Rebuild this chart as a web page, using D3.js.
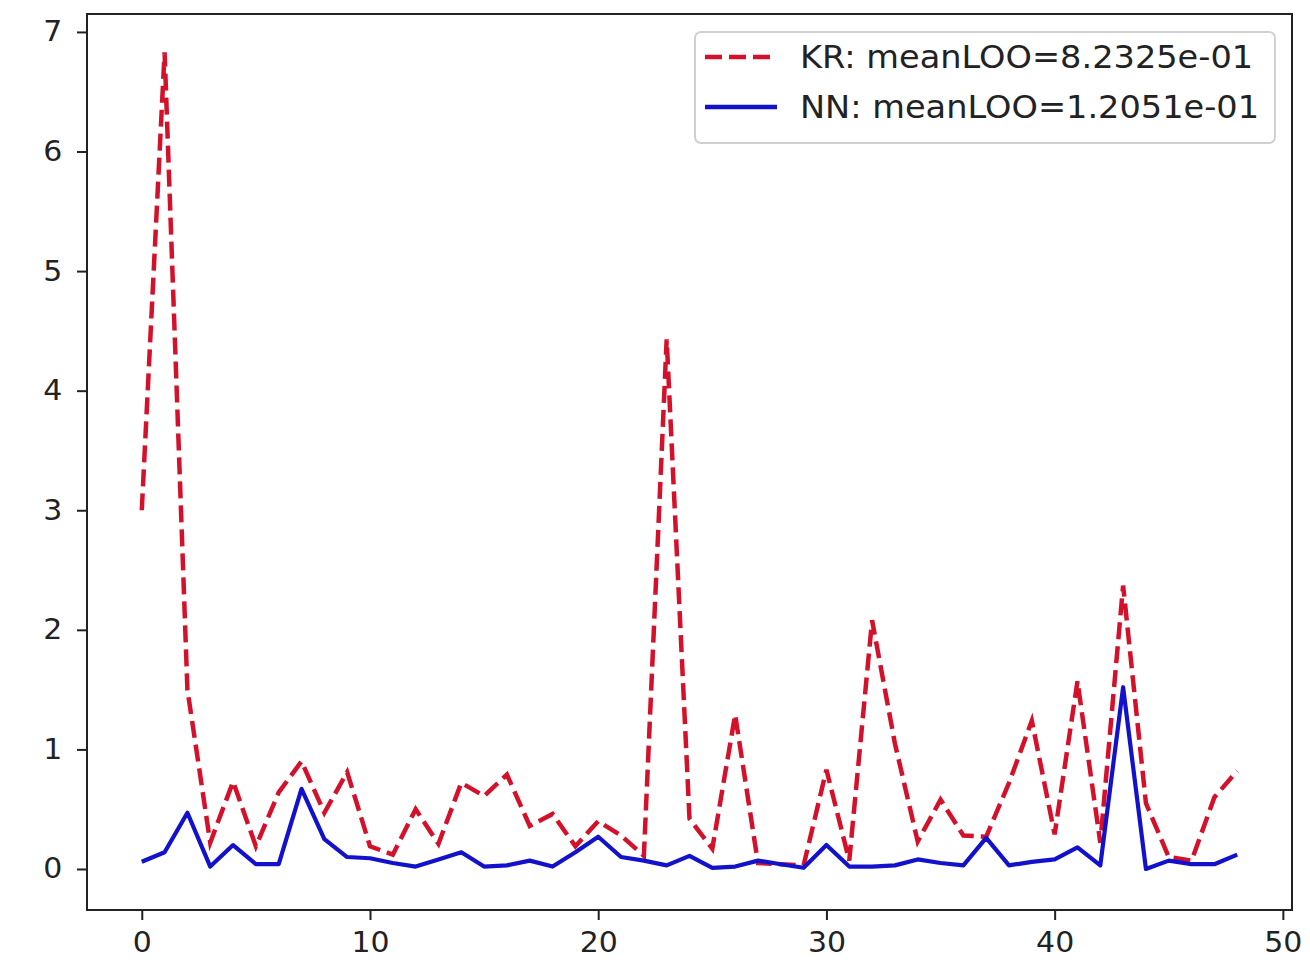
<!DOCTYPE html>
<html>
<head>
<meta charset="utf-8">
<script src="https://cdn.jsdelivr.net/npm/d3@7"></script>
<style>
  html, body { margin: 0; padding: 0; background: #fff; }
  svg { display: block; }
  text { font-family: "DejaVu Sans", sans-serif; fill: #222; }
</style>
</head>
<body>
<svg id="chart" width="1310" height="963"></svg>
<script>
// ---- data ----
const xIndex = d3.range(49);
const krValues = [3.0, 6.83, 1.5, 0.22, 0.73, 0.19, 0.64, 0.9, 0.47, 0.81,
  0.19, 0.12, 0.5, 0.21, 0.72, 0.61, 0.79, 0.36, 0.46, 0.19,
  0.40, 0.28, 0.11, 4.43, 0.42, 0.17, 1.29, 0.05, 0.04, 0.03,
  0.83, 0.07, 2.08, 1.05, 0.23, 0.58, 0.28, 0.27, 0.72, 1.24,
  0.29, 1.57, 0.22, 2.37, 0.55, 0.10, 0.07, 0.6, 0.82];
const nnValues = [0.06, 0.14, 0.47, 0.02, 0.20, 0.04, 0.04, 0.67, 0.25, 0.10,
  0.09, 0.05, 0.02, 0.08, 0.14, 0.02, 0.03, 0.07, 0.02, 0.14,
  0.27, 0.10, 0.07, 0.03, 0.11, 0.01, 0.02, 0.07, 0.04, 0.01,
  0.20, 0.02, 0.02, 0.03, 0.08, 0.05, 0.03, 0.26, 0.03, 0.06,
  0.08, 0.18, 0.03, 1.52, 0.00, 0.07, 0.04, 0.04, 0.12];
const xTicks = [0, 10, 20, 30, 40, 50];
const yTicks = [0, 1, 2, 3, 4, 5, 6, 7];
const legendLabels = ["KR: meanLOO=8.2325e-01", "NN: meanLOO=1.2051e-01"];

// ---- layout ----
const plotLeft = 87, plotRight = 1292, plotTop = 14, plotBottom = 910;
const svg = d3.select("#chart");

const x = d3.scaleLinear().domain([-2.4, 50.4]).range([plotLeft, plotRight]);
const y = d3.scaleLinear().domain([-0.343, 7.15]).range([plotBottom, plotTop]);

const redCol = "#d4112b";
const blueCol = "#1212cc";
const dashPattern = "17,7";

const line = d3.line().x((d, i) => x(xIndex[i])).y(d => y(d));

// lines
svg.append("path").datum(krValues)
  .attr("d", line)
  .attr("fill", "none")
  .attr("stroke", redCol)
  .attr("stroke-width", 4.5)
  .attr("stroke-dasharray", dashPattern);

svg.append("path").datum(nnValues)
  .attr("d", line)
  .attr("fill", "none")
  .attr("stroke", blueCol)
  .attr("stroke-width", 4.2)
  .attr("stroke-linejoin", "round");

// axes
const xAxis = d3.axisBottom(x).tickValues(xTicks).tickSize(10).tickPadding(12).tickFormat(d3.format("d"));
const gx = svg.append("g").attr("transform", `translate(0,${plotBottom})`).call(xAxis);
gx.select(".domain").remove();
gx.selectAll(".tick line").attr("stroke", "#222").attr("stroke-width", 2);
gx.selectAll(".tick text").attr("font-size", 28).attr("font-family", "DejaVu Sans").attr("fill", "#222")
  .attr("transform", "scale(1.07,1)");

const yAxis = d3.axisLeft(y).tickValues(yTicks).tickSize(10).tickPadding(13).tickFormat(d3.format("d"));
const gy = svg.append("g").attr("transform", `translate(${plotLeft},0)`).call(yAxis);
gy.select(".domain").remove();
gy.selectAll(".tick line").attr("stroke", "#222").attr("stroke-width", 2);
gy.selectAll(".tick text").attr("font-size", 28).attr("font-family", "DejaVu Sans").attr("fill", "#222")
  .attr("transform", "scale(1.07,1)");

// frame
svg.append("rect")
  .attr("x", plotLeft).attr("y", plotTop)
  .attr("width", plotRight - plotLeft).attr("height", plotBottom - plotTop)
  .attr("fill", "none").attr("stroke", "#222").attr("stroke-width", 2);

// legend
const lg = svg.append("g");
lg.append("rect")
  .attr("x", 695).attr("y", 32).attr("width", 580).attr("height", 111)
  .attr("rx", 6).attr("ry", 6)
  .attr("fill", "#fff").attr("fill-opacity", 0.8)
  .attr("stroke", "#d0d0d0").attr("stroke-width", 2);

const entries = [
  {label: legendLabels[0], color: redCol, dash: dashPattern, yy: 57},
  {label: legendLabels[1], color: blueCol, dash: null, yy: 107}
];
entries.forEach(e => {
  lg.append("line")
    .attr("x1", 705).attr("x2", 777)
    .attr("y1", e.yy).attr("y2", e.yy)
    .attr("stroke", e.color).attr("stroke-width", 4.5)
    .attr("stroke-dasharray", e.dash);
  lg.append("text")
    .attr("transform", `translate(800,${e.yy + 11}) scale(1.05,1)`)
    .attr("font-size", 32)
    .text(e.label);
});
</script>
</body>
</html>
